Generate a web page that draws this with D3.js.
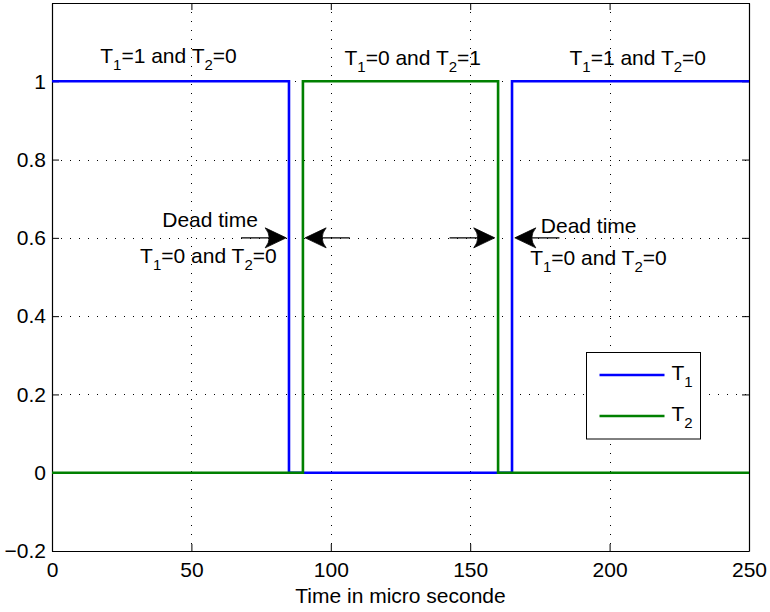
<!DOCTYPE html>
<html>
<head>
<meta charset="utf-8">
<script src="https://cdn.jsdelivr.net/npm/d3@7"></script>
<style>
  body { margin: 0; background: #fff; }
  svg { display: block; font-family: "Liberation Sans", Arial, Helvetica, sans-serif; }
  .axis text { font-size: 21px; fill: #000; }
  .axis line, .axis path { stroke: #000; }
</style>
</head>
<body>
<div id="chart"></div>
<script>
// switching signals (step breakpoints)
const t1Time = [0, 85, 85, 165, 165, 250];
const t1Value = [1, 1, 0, 0, 1, 1];
const t2Time = [0, 90, 90, 160, 160, 250];
const t2Value = [0, 0, 1, 1, 0, 0];

const seriesNames = ["T_1", "T_2"];
const seriesColors = ["#0000ff", "#008000"];

const xTicks = [0, 50, 100, 150, 200, 250];
const yTicks = [-0.2, 0, 0.2, 0.4, 0.6, 0.8, 1, 1.2];
const yTickLabels = ["\u22120.2", "0", "0.2", "0.4", "0.6", "0.8", "1", ""];
const xLabel = "Time in micro seconde";

// annotations, data coordinates
const labelText = ["T_1=1 and T_2=0", "T_1=0 and T_2=1", "T_1=1 and T_2=0",
                   "Dead time", "T_1=0 and T_2=0", "Dead time", "T_1=0 and T_2=0"];
const labelX = [41.8, 129.4, 210.1, 56.7, 56.1, 192.5, 196];
const labelY = [1.047, 1.042, 1.042, 0.628, 0.536, 0.612, 0.531];

const arrowFrom = [67.8, 106.8, 142.6, 182];
const arrowTo = [84, 90.8, 158.8, 166];
const arrowY = 0.6;

var W = 770, H = 612;
var margin = {left: 52, top: 3, right: 21, bottom: 61};
var width = W - margin.left - margin.right;
var height = H - margin.top - margin.bottom;
var tickLen = 7;

var svg = d3.select("#chart").append("svg")
    .attr("width", W)
    .attr("height", H);

var g = svg.append("g")
    .attr("transform", `translate(${margin.left}, ${margin.top})`);

var x = d3.scaleLinear().domain([0, 250]).range([0, width]);
var y = d3.scaleLinear().domain([-0.2, 1.2]).range([height, 0]);

/* grid */
var grid = g.append("g").attr("class", "grid")
    .attr("stroke", "#000")
    .attr("stroke-width", 1)
    .attr("stroke-dasharray", "1,8");

grid.selectAll(".gx").data(xTicks.slice(1, -1)).enter()
    .append("line")
    .attr("x1", d => Math.round(x(d)) + 0.5).attr("x2", d => Math.round(x(d)) + 0.5)
    .attr("y1", 0).attr("y2", height);

grid.selectAll(".gy").data(yTicks.slice(1, -1)).enter()
    .append("line")
    .attr("y1", d => Math.round(y(d)) + 0.5).attr("y2", d => Math.round(y(d)) + 0.5)
    .attr("x1", 0).attr("x2", width);

/* axes, ticks inward on all sides */
g.append("g").attr("class", "axis")
    .attr("transform", `translate(0, ${height})`)
    .call(d3.axisBottom(x).tickValues(xTicks).tickSizeInner(-tickLen).tickSizeOuter(0).tickPadding(11));

g.append("g").attr("class", "axis")
    .call(d3.axisLeft(y).tickValues(yTicks).tickSizeInner(-tickLen).tickSizeOuter(0).tickPadding(6)
        .tickFormat((d, i) => yTickLabels[i]));

g.append("g").attr("class", "axis")
    .call(d3.axisTop(x).tickValues(xTicks).tickSizeInner(-tickLen).tickSizeOuter(0).tickFormat(""));

g.append("g").attr("class", "axis")
    .attr("transform", `translate(${width}, 0)`)
    .call(d3.axisRight(y).tickValues(yTicks).tickSizeInner(-tickLen).tickSizeOuter(0).tickFormat(""));

g.selectAll(".axis path").attr("stroke-width", 1.2);

/* x label */
g.append("text")
    .attr("x", width / 2)
    .attr("y", height + 52)
    .attr("text-anchor", "middle")
    .attr("font-size", 21)
    .text(xLabel);

/* lines */
var line = d3.line()
    .x(d => x(d[0]))
    .y(d => y(d[1]));

var series = [
    d3.zip(t1Time, t1Value),
    d3.zip(t2Time, t2Value)
];

g.selectAll(".signal")
    .data(series).enter()
    .append("path")
    .attr("class", "signal")
    .attr("d", d => line(d))
    .attr("fill", "none")
    .attr("stroke", (d, i) => seriesColors[i])
    .attr("stroke-width", 2.6)
    .attr("stroke-linejoin", "miter");

/* text with subscripts, "T_1" style */
function richText(sel, str, size, subSize) {
    var parts = str.split(/(_\d)/).filter(s => s.length);
    var shifted = false;
    parts.forEach(function(p) {
        var ts = sel.append("tspan");
        if (p[0] === "_") {
            ts.attr("font-size", subSize).attr("dy", 7).text(p.slice(1));
            shifted = true;
        } else {
            ts.attr("font-size", size).text(p);
            if (shifted) { ts.attr("dy", -7); shifted = false; }
        }
    });
}

labelText.forEach(function(s, i) {
    var t = g.append("text")
        .attr("x", x(labelX[i]))
        .attr("y", y(labelY[i]))
        .attr("text-anchor", "middle");
    richText(t, s, 21, 15);
});

/* dead time arrows, curved-back heads */
var arrows = g.append("g").attr("class", "arrows");
arrowFrom.forEach(function(a, i) {
    var x1 = x(a), x2 = x(arrowTo[i]), yy = y(arrowY);
    var dir = x2 > x1 ? 1 : -1;
    var L = 21, hw = 10, notch = 8;
    arrows.append("line")
        .attr("x1", x1).attr("x2", x2 - dir * 8)
        .attr("y1", yy).attr("y2", yy)
        .attr("stroke", "#000").attr("stroke-width", 1.2);
    var bx = x2 - dir * L;
    arrows.append("path")
        .attr("d", `M${x2},${yy} L${bx},${yy - hw} Q${bx + dir * notch},${yy} ${bx},${yy + hw} Z`)
        .attr("fill", "#000")
        .attr("stroke", "#000")
        .attr("stroke-width", 0.8)
        .attr("stroke-linejoin", "miter");
});

/* legend */
var lg = svg.append("g").attr("transform", "translate(586.5, 352.5)");
lg.append("rect")
    .attr("width", 114).attr("height", 86.5)
    .attr("fill", "#fff").attr("stroke", "#000").attr("stroke-width", 1);

seriesNames.forEach(function(n, i) {
    var yy = 22.5 + i * 41;
    lg.append("line")
        .attr("x1", 13).attr("x2", 78)
        .attr("y1", yy).attr("y2", yy)
        .attr("stroke", seriesColors[i]).attr("stroke-width", 2.6);
    var t = lg.append("text")
        .attr("x", 85)
        .attr("y", yy + 5);
    richText(t, n, 21, 15);
});
</script>
</body>
</html>
